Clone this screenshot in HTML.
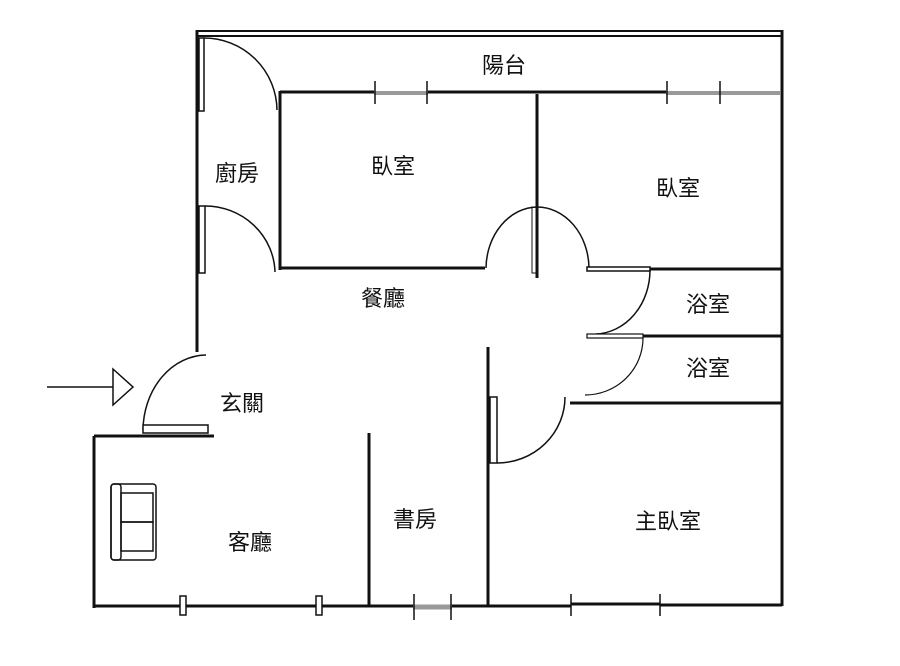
<!DOCTYPE html>
<html><head><meta charset="utf-8"><style>
html,body{margin:0;padding:0;background:#fff;width:900px;height:666px;overflow:hidden}
text{font-family:"Liberation Sans","Noto Sans CJK TC",sans-serif;font-size:22px;fill:#111;text-anchor:middle;dominant-baseline:middle}
</style></head><body>
<svg width="900" height="666" viewBox="0 0 900 666" xmlns="http://www.w3.org/2000/svg">
<g stroke="#111" fill="none" stroke-width="3">
<line x1="197" y1="31" x2="782" y2="31" stroke-width="2"/>
<line x1="197" y1="36" x2="782" y2="36" stroke-width="2"/>
<line x1="197" y1="30" x2="197" y2="352"/>
<line x1="782" y1="30" x2="782" y2="606"/>
<rect x="199" y="38" width="5" height="73" stroke-width="1.5" fill="#fff"/>
<path d="M204 38 A73 73 0 0 1 277 110" stroke-width="1.5"/>
<rect x="199" y="206" width="6" height="67" stroke-width="1.5" fill="#fff"/>
<path d="M205 206 A70 68 0 0 1 275 272" stroke-width="1.5"/>
<line x1="280" y1="91" x2="280" y2="270"/>
<line x1="280" y1="92" x2="374" y2="92"/>
<line x1="428" y1="92" x2="666" y2="92"/>
<line x1="280" y1="268" x2="485" y2="268"/>
<line x1="537" y1="94" x2="537" y2="278"/>
<rect x="532" y="207" width="4" height="66" stroke-width="1" fill="#fff"/>
<path d="M486 268 A52 62 0 0 1 537 207 A52 62 0 0 1 589 268" stroke-width="1.5"/>
<rect x="587" y="267" width="63" height="4" stroke-width="1.5" fill="#fff"/>
<line x1="650" y1="269" x2="782" y2="269"/>
<path d="M650 270 A56 64 0 0 1 596 334" stroke-width="1.5"/>
<rect x="587" y="334" width="56" height="4" stroke-width="1.2" fill="#fff"/>
<line x1="643" y1="336" x2="782" y2="336"/>
<path d="M643 338 A58 57 0 0 1 585 395" stroke-width="1.2"/>
<line x1="570" y1="403" x2="782" y2="403"/>
<line x1="488" y1="347" x2="488" y2="606"/>
<rect x="490" y="397" width="7" height="66" stroke-width="1.5" fill="#fff"/>
<path d="M497 463 A68 66 0 0 0 565 397" stroke-width="1.5"/>
<path d="M206 355 A64 76 0 0 0 143 430" stroke-width="1.5"/>
<rect x="143" y="425" width="65" height="8" stroke-width="1.5" fill="#fff"/>
<line x1="94" y1="436" x2="214" y2="436"/>
<line x1="94" y1="436" x2="94" y2="608"/>
<line x1="94" y1="606" x2="413" y2="606"/>
<line x1="452" y1="606" x2="571" y2="606"/>
<line x1="571" y1="604" x2="660" y2="604"/>
<line x1="660" y1="605" x2="782" y2="605"/>
<line x1="369" y1="433" x2="369" y2="606"/>
<line x1="47" y1="387" x2="113" y2="387" stroke-width="1.5"/>
<path d="M113 369 L133 387 L113 405 Z" stroke-width="1.5" fill="#fff"/>
</g>
<g stroke="#111" stroke-width="1.5" fill="none">
<line x1="374" y1="93" x2="428" y2="93" stroke="#999" stroke-width="4"/>
<line x1="375" y1="81" x2="375" y2="104"/><line x1="427" y1="81" x2="427" y2="104"/>
<line x1="666" y1="93" x2="780" y2="93" stroke="#999" stroke-width="4"/>
<line x1="667" y1="81" x2="667" y2="104"/><line x1="720" y1="81" x2="720" y2="104"/>
<line x1="413" y1="607" x2="452" y2="607" stroke="#999" stroke-width="5"/>
<line x1="414" y1="594" x2="414" y2="620"/><line x1="451" y1="594" x2="451" y2="620"/>
<line x1="571" y1="594" x2="571" y2="616"/><line x1="660" y1="594" x2="660" y2="616"/>
<rect x="180" y="596" width="6" height="19" fill="#fff"/>
<rect x="316" y="596" width="6" height="19" fill="#fff"/>
<rect x="111" y="484" width="45" height="76" rx="3" fill="#fff"/>
<rect x="111" y="484" width="10" height="76" rx="3"/>
<rect x="121" y="493" width="32" height="29"/>
<rect x="121" y="522" width="32" height="29"/>
</g>
<text x="504" y="67">陽台</text>
<text x="237" y="175">廚房</text>
<text x="393" y="168">臥室</text>
<text x="678" y="190">臥室</text>
<text x="383" y="300">餐廳</text>
<text x="708" y="306">浴室</text>
<text x="708" y="370">浴室</text>
<text x="242" y="405">玄關</text>
<text x="415" y="521">書房</text>
<text x="250" y="544">客廳</text>
<text x="668" y="523">主臥室</text>
</svg>
</body></html>
